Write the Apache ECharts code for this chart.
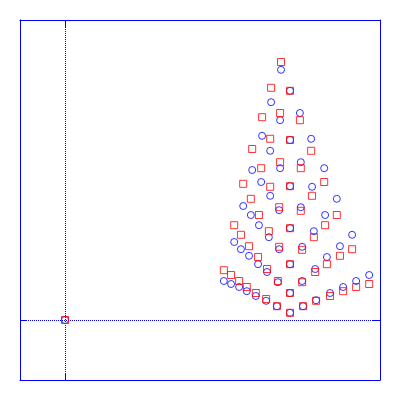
<!DOCTYPE html>
<html>
<head>
<meta charset="utf-8">
<script src="https://cdn.jsdelivr.net/npm/echarts@6/dist/echarts.min.js"></script>
<style>html,body{margin:0;padding:0;background:#fff;}#c{width:400px;height:400px;}</style>
</head>
<body>
<div id="c"></div>
<script>
var xRange = [-1, 7];
var yRange = [-1, 5];
var tickValues = [0];

var circlePoints = [
  [0,0],
  [4.80,4.17],[5.00,3.82],[4.58,3.63],[5.22,3.45],[4.78,3.33],[4.38,3.07],[5.00,3.00],[5.47,3.02],[4.56,2.82],[5.24,2.63],[4.16,2.50],[4.78,2.53],[5.76,2.53],
  [4.36,2.30],[5.00,2.23],[5.49,2.22],[4.56,2.07],[6.04,2.02],[3.96,1.90],[4.76,1.83],[5.24,1.88],[4.13,1.75],[5.78,1.75],[4.31,1.58],[5.00,1.53],[4.53,1.38],[5.53,1.48],[6.38,1.42],[3.76,1.30],[6.11,1.23],[4.76,1.18],[5.27,1.22],[3.91,1.18],[4.09,1.07],[5.82,1.05],[4.29,0.93],[5.00,0.93],[4.49,0.80],[5.56,0.85],[6.76,0.75],[3.53,0.65],[4.73,0.63],[5.27,0.65],[6.47,0.65],[3.69,0.60],[3.87,0.55],[4.04,0.48],[6.18,0.55],[4.24,0.40],[5.89,0.45],[5.00,0.45],[4.47,0.32],[5.58,0.33],[4.71,0.23],[5.29,0.23],[5.00,0.12]
];

var squarePoints = [
  [0,0],
  [4.80,4.30],[4.58,3.87],[5.00,3.82],[4.78,3.45],[4.38,3.38],[5.22,3.33],[4.56,3.02],[5.00,3.00],[4.16,2.85],[5.47,2.82],[4.78,2.63],[4.36,2.53],[5.24,2.53],
  [3.96,2.27],[4.56,2.22],[5.00,2.23],[5.76,2.30],[5.49,2.07],[4.13,2.02],[4.76,1.88],[5.24,1.82],[4.31,1.75],[6.04,1.75],[3.76,1.58],[5.00,1.53],[5.78,1.58],[4.53,1.48],[5.53,1.38],[3.91,1.42],[4.09,1.23],[4.76,1.22],[5.27,1.17],[6.38,1.18],[4.29,1.05],[6.11,1.07],[5.00,0.93],[5.82,0.93],[3.53,0.83],[4.49,0.85],[5.56,0.80],[3.69,0.75],[3.87,0.65],[4.73,0.65],[5.27,0.63],[6.76,0.60],[4.04,0.55],[6.18,0.48],[6.47,0.55],[4.24,0.45],[5.00,0.45],[5.89,0.40],[4.47,0.35],[5.58,0.32],[4.71,0.23],[5.29,0.23],[5.00,0.12]
];

var BLUE = '#0000ff';
var RED = '#ff0000';

function frameAxis(pos, range) {
  return {
    type: 'value',
    position: pos,
    min: range[0],
    max: range[1],
    axisLine: { show: true, onZero: false, lineStyle: { color: BLUE, width: 1 } },
    axisTick: { show: true, inside: true, length: 7, customValues: tickValues, lineStyle: { color: BLUE, width: 1 } },
    axisLabel: { show: false },
    splitLine: { show: false }
  };
}

var chart = echarts.init(document.getElementById('c'));
chart.setOption({
  animation: false,
  backgroundColor: '#ffffff',
  grid: { left: 20, right: 20, top: 20, bottom: 20, containLabel: false },
  xAxis: [frameAxis('bottom', xRange), frameAxis('top', xRange)],
  yAxis: [frameAxis('left', yRange), frameAxis('right', yRange)],
  series: [
    {
      type: 'scatter',
      xAxisIndex: 0, yAxisIndex: 0,
      symbol: 'circle',
      symbolSize: 7,
      itemStyle: { color: 'transparent', borderColor: BLUE, borderWidth: 1 },
      data: circlePoints,
      z: 3,
      markLine: {
        silent: true,
        symbol: 'none',
        label: { show: false },
        lineStyle: { color: BLUE, type: 'dotted', width: 1 },
        data: [{ xAxis: tickValues[0] }, { yAxis: tickValues[0] }],
        z: 1
      }
    },
    {
      type: 'scatter',
      xAxisIndex: 0, yAxisIndex: 0,
      symbol: 'rect',
      symbolSize: 7,
      itemStyle: { color: 'transparent', borderColor: RED, borderWidth: 1 },
      data: squarePoints,
      z: 4
    }
  ]
});
</script>
</body>
</html>
